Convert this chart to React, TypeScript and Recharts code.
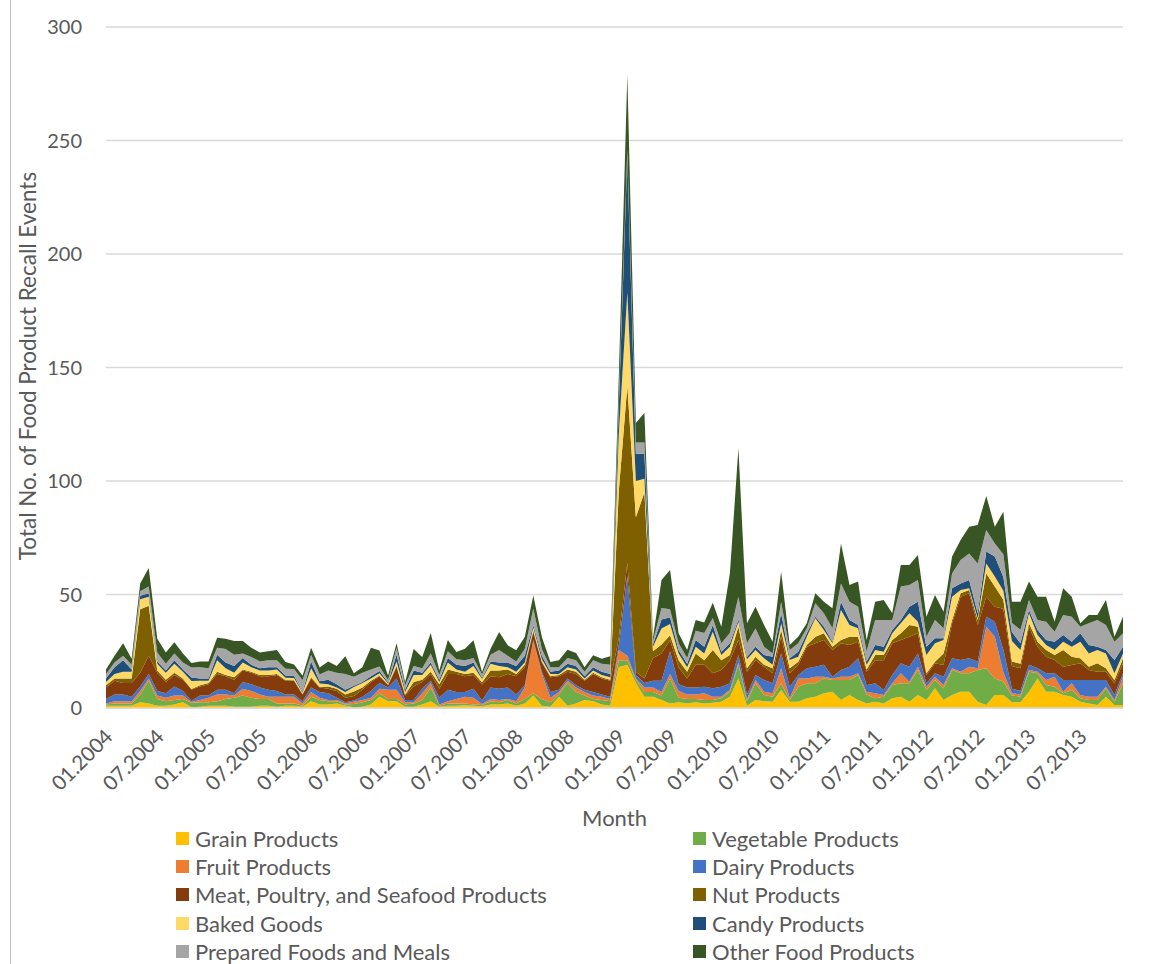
import { AreaChart, Area, XAxis, YAxis, CartesianGrid } from "recharts";

// monthly recall counts, 01.2004 .. 12.2013
const grain = [
  1, 1, 1, 1, 2.5, 2, 1, 1, 1.5, 2.5,
  0.3, 0.5, 1, 1, 1, 0.5, 0.5, 0.5, 1, 1,
  0.5, 1, 1, 0.5, 3, 1.5, 1.5, 2, 1, 0.3,
  0.5, 1.5, 5, 3, 3, 0.5, 0.5, 1.5, 3, 0.5,
  1, 1, 1.2, 1, 0.8, 1.5, 1.5, 2, 1, 2,
  5.5, 1, 0.5, 5, 1, 2, 3.5, 3, 1.5, 1,
  18, 19, 11, 5, 5, 3.5, 2, 2.5, 2, 2.5,
  2, 2.3, 2.8, 5, 13, 1, 3.5, 3, 2.8, 7.9,
  2.8, 2.8, 4.3, 5, 6.5, 7.2, 3.5, 5.7, 3.5, 2,
  2.8, 2, 4.3, 5, 2.8, 5.7, 3.5, 8.7, 3.5, 5.7,
  7.2, 7.2, 2.8, 1.3, 5.7, 5.7, 2.5, 2.5, 7.2, 13,
  7.2, 7.2, 5.7, 5, 2.8, 2, 1.3, 5, 1.3, 1.3,
];
const vegetable = [
  0.5, 1, 1, 1, 3.5, 10, 3, 2, 2, 1.5,
  2, 2, 1.5, 2, 3, 4, 5, 4, 3, 3,
  1.5, 1, 1, 0.5, 2, 2, 1.5, 1, 0.5, 1.5,
  2, 2, 1.5, 1, 1, 1, 1.5, 2, 6, 0.5,
  1, 1, 0.8, 0.5, 0.5, 1.5, 1, 1.5, 1, 2,
  1, 3, 2, 1, 10, 5, 2, 1, 2, 2,
  3, 2, 1.5, 2, 2, 2, 11, 2, 2, 1.5,
  1.5, 1.2, 1.5, 2.2, 6, 2, 7.4, 2.7, 2.2, 3,
  0.7, 6.6, 6.6, 5.9, 6.5, 5.1, 8.8, 6.6, 11, 4,
  1.5, 3, 5.8, 5.9, 8.1, 11, 4.4, 3.6, 5.2, 11,
  8.1, 8.1, 13.9, 16.2, 7.3, 6, 3, 2.5, 8.8, 2.3,
  2.9, 2.2, 0.8, 2.9, 1.5, 1.5, 2.2, 3.7, 1.5, 9.6,
];
const fruit = [
  0.5, 1, 1, 1, 1.5, 1, 1.5, 1.5, 2, 1.5,
  0.3, 1, 2, 3, 2, 1, 3, 3, 2, 1,
  3, 3, 3, 1, 2, 1, 0.5, 0.5, 0.5, 1,
  1, 1, 2, 4, 4, 1, 0.5, 3, 2, 0.5,
  1, 2, 3, 3, 0.5, 1, 1, 0.5, 1, 5,
  23, 11, 2, 1, 1, 2, 1.5, 1.5, 1.5, 1,
  4.5, 2, 0.5, 2, 2, 1.5, 2, 3, 2, 2,
  3, 1.5, 0.7, 0.8, 1, 1, 1.4, 1.5, 1.5, 6.6,
  0.8, 3.6, 2.1, 2.9, 0.8, 0.7, 1.5, 1.5, 0.8, 1,
  2.2, 0.7, 0.8, 4.4, 0.7, 1.5, 1.5, 1.5, 1.4, 0.8,
  0.7, 2.9, 0.8, 18.3, 18.4, 4, 1, 1, 0.7, 0.7,
  2.2, 4.4, 0.7, 3, 1.4, 1.5, 1.5, 0.7, 0.7, 2.9,
];
const dairy = [
  2, 3, 3, 2, 2, 2, 2, 2, 4, 2,
  0.5, 2, 1, 2, 2, 1, 3, 3, 3, 3,
  2.5, 1, 1, 1, 2, 2.5, 3, 1, 0.5, 0.5,
  1.5, 3, 2.5, 1, 5, 1, 1, 2, 1, 3,
  5, 3, 2, 4, 1.5, 5, 5, 5, 3, 1,
  0.5, 1, 2.5, 1, 1, 1, 1, 1.5, 1, 1,
  2, 35, 1.5, 2, 3, 5, 10, 3, 3, 3,
  2.9, 3.7, 4.4, 2.9, 3.3, 2, 2.2, 5.1, 4.4, 6.5,
  5.1, 1.5, 4.5, 4.4, 5.2, 0.8, 2.9, 4.4, 6.6, 3,
  4.4, 2.2, 3.6, 4.4, 6.6, 5.8, 1.5, 1.5, 3.7, 4.4,
  5.1, 3.7, 2.9, 4.4, 6.6, 10, 2, 1.5, 2.3, 1.5,
  3, 1.5, 5.1, 1.4, 6.6, 7.3, 7.3, 2.9, 2.2, 1.5,
];
const meat = [
  5, 6, 5, 6, 6, 8, 8, 5, 5, 5,
  5, 4, 5, 7, 6, 6, 5, 5, 5, 6,
  7, 6, 6, 3, 4, 2, 2, 3, 2, 2,
  3, 4, 3, 1, 5, 2, 6, 3, 3, 4,
  7, 8, 7, 6, 7, 5, 5, 6, 8, 8,
  3.5, 4, 6.5, 6, 3, 5, 4, 8, 7, 7,
  3, 6, 1.5, 2, 10, 12, 5, 7.5, 4, 10,
  9.6, 6.6, 7.3, 10.1, 6.7, 10, 6.5, 5.9, 4.4, 7.4,
  5.9, 4.5, 9.5, 10.3, 11, 11.7, 11.8, 9.6, 7.3, 6,
  10.1, 13.1, 14, 10.3, 13.2, 8.9, 3.6, 4.4, 5.1, 15.4,
  27.9, 28.6, 16.2, 8.8, 6.6, 18, 10, 10, 16.8, 9.5,
  7.3, 5.8, 5.9, 6.6, 7.4, 4.4, 3.7, 3.7, 5.2, 4.4,
];
const nut = [
  1, 1, 2, 2, 28, 22, 1, 1, 1, 0.5,
  0.3, 0.5, 0.5, 1, 0.5, 1, 0.5, 0.5, 0.5, 0.5,
  0.5, 0.3, 0.2, 0.2, 0.5, 0.3, 1, 1, 1.5, 2,
  1, 0.5, 0.3, 0.3, 0.5, 0.5, 2, 1, 1, 2,
  2, 1, 1, 1, 1, 2.5, 3, 2, 1, 1,
  0.5, 0.5, 0.5, 0.5, 1, 1, 0.5, 0.5, 0.5, 0.5,
  65, 78, 68, 82, 3, 4, 2, 3, 3, 5,
  2, 10.2, 4.3, 2.3, 5.8, 1.5, 1.6, 0.8, 2.2, 3,
  2.2, 1.4, 0.8, 2.9, 2.9, 1.5, 1.5, 3.6, 2.2, 1,
  2.3, 2.3, 1.5, 2.9, 5.2, 2.9, 0.8, 0.7, 5.1, 1.5,
  1.5, 1.5, 2.2, 10.3, 8.9, 4, 2, 2, 1.5, 2.2,
  2.9, 2.2, 7.3, 3.7, 2.2, 1.5, 3.7, 1.5, 1.4, 2.2,
];
const baked = [
  1.5, 2, 3, 3, 4.4, 4, 3, 3, 4, 3,
  3.5, 2, 1, 5, 3, 2, 3, 2, 2, 2,
  2, 1, 1, 0.5, 4, 1.5, 1, 0.5, 1, 2,
  2, 1, 1, 0.5, 2, 1, 3, 2, 3, 1,
  3, 1, 1, 3, 1.5, 3, 2, 1, 1, 1,
  1.5, 1, 1, 0.5, 1, 1, 0.5, 1, 1, 1,
  25, 41, 16, 6, 2, 7, 5, 3, 2, 3,
  3, 8.1, 2.3, 3.7, 2.2, 4, 2.9, 2.9, 1.5, 2.9,
  3.6, 2.2, 3.6, 8.1, 1.5, 1.5, 13.2, 5.2, 3.7, 2,
  2.2, 1.5, 2.9, 4.4, 5.1, 2.2, 8, 8.1, 6, 10.2,
  1.5, 0.7, 0.7, 4.4, 4.4, 4, 9, 6, 4.4, 3,
  2.3, 2.2, 3.7, 4.4, 7.3, 5.8, 5.8, 6.5, 3, 2.1,
];
const candy = [
  1.5, 3, 5, 1, 1.5, 1.5, 1, 1, 1.5, 1,
  1.5, 1, 1, 2.5, 2.5, 3, 2, 1, 1, 1.5,
  1, 1, 1, 0.5, 3, 1, 2, 1.5, 1, 0.5,
  0.5, 1, 1, 0.5, 3, 1, 2, 1, 1, 1,
  2, 2, 2.5, 1.5, 0.5, 1, 1.5, 2, 2.5, 3,
  1, 1.5, 1, 1.5, 1.5, 1.5, 1, 1.5, 1.5, 1.5,
  12, 60, 12, 11, 1, 4, 3, 1.5, 1.5, 3,
  3, 3, 1.5, 1.5, 1, 1, 1.5, 1.4, 3.6, 4.4,
  0.8, 2.2, 1.5, 0.7, 1.4, 0.7, 3.6, 2.2, 1.5, 1.5,
  2.3, 2.2, 1.5, 1.5, 2.9, 8.8, 3.7, 2.2, 0.7, 3.7,
  2.9, 3.7, 2.2, 5.2, 8.8, 6, 4, 3, 1.5, 2.2,
  2.2, 3.7, 3, 2.2, 3.7, 3.8, 1.5, 1.5, 5.8, 3,
];
const prepared = [
  2, 2, 2, 2, 2, 3, 4, 3, 3, 3,
  4.4, 5, 4.5, 3, 6, 5, 2, 3.5, 3, 3,
  3, 3, 3, 5, 3, 3, 4, 5, 7, 4,
  4, 3, 2, 1, 3, 2, 2, 2, 4, 2,
  3, 2.5, 2.5, 2, 1.5, 3, 5.5, 3, 2, 3,
  7.3, 3, 2, 1.5, 2.5, 2.5, 2, 3, 3.5, 4,
  3, 3, 5, 5, 1.5, 5, 3.5, 3, 2.5, 4,
  6, 3, 3.7, 4.5, 10, 6, 8, 3.7, 1.4, 5.1,
  3.6, 3.7, 2.2, 5.9, 5.9, 5.9, 8.1, 8, 8, 4.5,
  11, 11.8, 4.4, 14.7, 9.6, 9.6, 4.4, 8.1, 4.4, 6.6,
  10.3, 11.7, 22, 9.5, 5.8, 10, 4, 6, 4.4, 4.4,
  8, 4.4, 8.8, 11, 2.9, 9.5, 11.8, 11.1, 8.1, 5.9,
];
const other = [
  2, 3, 5.5, 2.7, 3.4, 8.2, 6, 5, 5, 4,
  2, 2.5, 3, 4.5, 4.5, 6, 5.5, 4, 4, 4,
  4.5, 3, 2, 2, 3, 3, 4, 3, 7.8, 1.5,
  2.5, 9.5, 7, 2, 2, 1.5, 7.5, 5, 9, 2,
  5, 3.2, 5.1, 7.8, 1.1, 2.6, 8, 4.6, 4.9, 5.3,
  5.8, 5.3, 2.3, 3, 3.7, 3.2, 2, 2.2, 2.2, 3.8,
  10, 33, 8.5, 13, 1.3, 12.4, 17.3, 4.4, 3.5, 4.8,
  4.7, 6.8, 7.3, 26.3, 65.4, 8.8, 9.6, 9.6, 5.2, 13.2,
  2.3, 2.9, 2.2, 4.4, 5.1, 8.8, 17.6, 7.4, 11.1, 5,
  8, 8.8, 2.9, 9.5, 8.8, 11, 8.8, 11, 7.3, 7.4,
  8.8, 11.8, 16.9, 15, 7.4, 18.8, 9.3, 12.3, 8.1, 10.2,
  11, 4.4, 11.7, 8.8, 1.5, 3.7, 2.2, 11, 2.2, 7.3,
];

const years = [2004, 2005, 2006, 2007, 2008, 2009, 2010, 2011, 2012, 2013];
const months = years.flatMap((y) =>
  Array.from({ length: 12 }, (_, m) => `${String(m + 1).padStart(2, "0")}.${y}`)
);
const yTicks = [0, 50, 100, 150, 200, 250, 300];

const SERIES = [
  { key: "grain", name: "Grain Products", color: "#FFC000", values: grain },
  { key: "vegetable", name: "Vegetable Products", color: "#70AD47", values: vegetable },
  { key: "fruit", name: "Fruit Products", color: "#ED7D31", values: fruit },
  { key: "dairy", name: "Dairy Products", color: "#4472C4", values: dairy },
  { key: "meat", name: "Meat, Poultry, and Seafood Products", color: "#843C0C", values: meat },
  { key: "nut", name: "Nut Products", color: "#7F6000", values: nut },
  { key: "baked", name: "Baked Goods", color: "#FFD966", values: baked },
  { key: "candy", name: "Candy Products", color: "#1F4E79", values: candy },
  { key: "prepared", name: "Prepared Foods and Meals", color: "#A5A5A5", values: prepared },
  { key: "other", name: "Other Food Products", color: "#375623", values: other },
];

const data = months.map((month, i) => {
  const row: Record<string, string | number> = { month };
  SERIES.forEach((s) => {
    row[s.key] = s.values[i];
  });
  return row;
});

const FONT = "Lato, 'Open Sans', sans-serif";
const TEXT = "#595959";

function MonthTick({ x, y, payload }: any) {
  const ax = x + 8;
  const ay = y + 22;
  return (
    <text
      x={ax}
      y={ay}
      transform={`rotate(-45 ${ax} ${ay})`}
      textAnchor="end"
      fill={TEXT}
      fontSize={20.5}
      fontFamily={FONT}
    >
      {payload.value}
    </text>
  );
}

function YTitle() {
  return (
    <text
      x={36}
      y={366}
      transform="rotate(-90 36 366)"
      textAnchor="middle"
      fill={TEXT}
      fontSize={22.5}
      fontFamily={FONT}
    >
      Total No. of Food Product Recall Events
    </text>
  );
}

export default function App() {
  return (
    <div
      style={{
        position: "absolute",
        left: 0,
        top: 0,
        width: 1155,
        height: 964,
        background: "#fff",
        fontFamily: FONT,
      }}
    >
      <div style={{ position: "absolute", left: 10, top: 0, width: 1, height: 964, background: "#bfbfbf" }} />
      <AreaChart
        width={1155}
        height={964}
        data={data}
        margin={{ top: 27, right: 32, bottom: 136, left: 46 }}
      >
        <CartesianGrid vertical={false} stroke="#d9d9d9" strokeWidth={1.5} />
        <XAxis
          dataKey="month"
          interval={5}
          height={120}
          axisLine={{ stroke: "#d9d9d9", strokeWidth: 1.5 }}
          tickLine={false}
          tick={<MonthTick />}
          label={{
            value: "Month",
            position: "insideBottom",
            offset: 2,
            fill: TEXT,
            fontSize: 22,
            fontFamily: FONT,
          }}
        />
        <YAxis
          width={60}
          domain={[0, 300]}
          ticks={yTicks}
          axisLine={false}
          tickLine={false}
          tickMargin={18}
          tick={{ fill: TEXT, fontSize: 20, fontFamily: FONT }}
          label={<YTitle />}
        />
        {SERIES.map((s) => (
          <Area
            key={s.key}
            type="linear"
            dataKey={s.key}
            name={s.name}
            stackId="all"
            stroke="none"
            fill={s.color}
            fillOpacity={1}
            dot={false}
            activeDot={false}
            isAnimationActive={false}
          />
        ))}
      </AreaChart>
      {SERIES.map((s, i) => (
        <div
          key={s.key}
          style={{
            position: "absolute",
            left: i % 2 === 0 ? 176 : 693,
            top: 838 + Math.floor(i / 2) * 28.4 - 13,
            height: 26,
            display: "flex",
            alignItems: "center",
            fontSize: 22,
            color: TEXT,
            whiteSpace: "nowrap",
          }}
        >
          <span style={{ width: 13, height: 13, background: s.color, marginRight: 6, display: "inline-block" }} />
          {s.name}
        </div>
      ))}
    </div>
  );
}
